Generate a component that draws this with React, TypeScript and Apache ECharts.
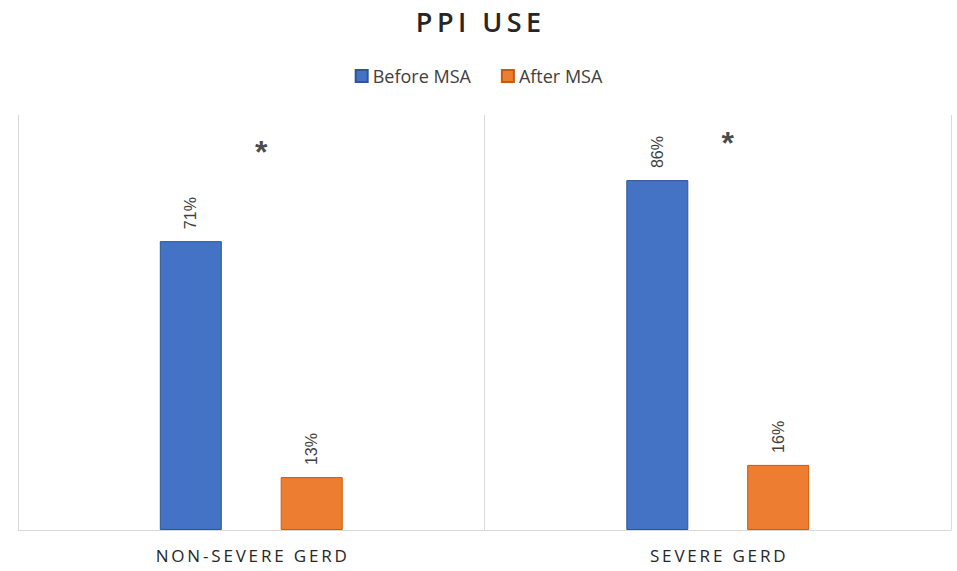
import React, { useEffect, useRef } from "react";
import * as echarts from "echarts";

const categories = ["NON-SEVERE GERD", "SEVERE GERD"];
const beforeMSA = [71, 86];
const afterMSA = [13, 16];
const significance = [93, 95];
const titleText = "PPI USE";

const spaced = (s: string) => s.split("").join("\u2009");

export default function App() {
  const ref = useRef<HTMLDivElement>(null);
  useEffect(() => {
    if (!ref.current) return;
    const chart = echarts.init(ref.current, null, { renderer: "svg" });
    const labelCfg = {
      show: true,
      position: "top",
      rotate: 90,
      align: "left",
      verticalAlign: "middle",
      distance: 12,
      formatter: (p: any) => p.value + "%",
      color: "#404040",
      fontSize: 16,
      fontFamily: "Liberation Sans, Arial, sans-serif",
    };
    chart.setOption({
      animation: false,
      backgroundColor: "#ffffff",
      title: {
        text: spaced(titleText),
        left: "center",
        top: 3,
        textStyle: {
          fontFamily: "Open Sans, sans-serif",
          fontSize: 27,
          fontWeight: 600,
          color: "#262626",
        },
      },
      legend: {
        data: ["Before MSA", "After MSA"],
        top: 62,
        left: "center",
        itemWidth: 12,
        itemHeight: 12,
        itemGap: 30,
        icon: "rect",
        textStyle: {
          fontFamily: "Open Sans, sans-serif",
          fontSize: 18,
          color: "#404040",
        },
      },
      grid: { left: 18, right: 6, top: 115, bottom: 41, containLabel: false },
      xAxis: {
        type: "category",
        data: categories,
        axisLine: { show: true, lineStyle: { color: "#d9d9d9", width: 1 } },
        axisTick: { show: false },
        splitLine: { show: true, lineStyle: { color: "#d9d9d9", width: 1 } },
        axisLabel: {
          margin: 17,
          fontFamily: "Open Sans, sans-serif",
          fontSize: 17,
          color: "#262626",
          formatter: (v: string) => spaced(v),
        },
      },
      yAxis: {
        type: "value",
        min: 0,
        max: 102,
        show: false,
        splitLine: { show: false },
      },
      series: [
        {
          name: "Before MSA",
          type: "bar",
          data: beforeMSA,
          barWidth: 62,
          barGap: "95%",
          itemStyle: { color: "#4472C4", borderColor: "#2F5597", borderWidth: 1 },
          label: labelCfg,
        },
        {
          name: "After MSA",
          type: "bar",
          data: afterMSA,
          barWidth: 62,
          itemStyle: { color: "#ED7D31", borderColor: "#C55A11", borderWidth: 1 },
          label: labelCfg,
        },
        {
          name: "significance",
          type: "scatter",
          data: significance,
          symbolSize: 0,
          silent: true,
          label: {
            show: true,
            position: "inside",
            formatter: "*",
            offset: [10, 0],
            fontSize: 32,
            fontWeight: "bold",
            color: "#1a1a1a",
            fontFamily: "Liberation Sans, Arial, sans-serif",
          },
        },
      ],
    });
    return () => chart.dispose();
  }, []);
  return (
    <div
      ref={ref}
      style={{ position: "absolute", left: 0, top: 0, width: 957, height: 571 }}
    />
  );
}
